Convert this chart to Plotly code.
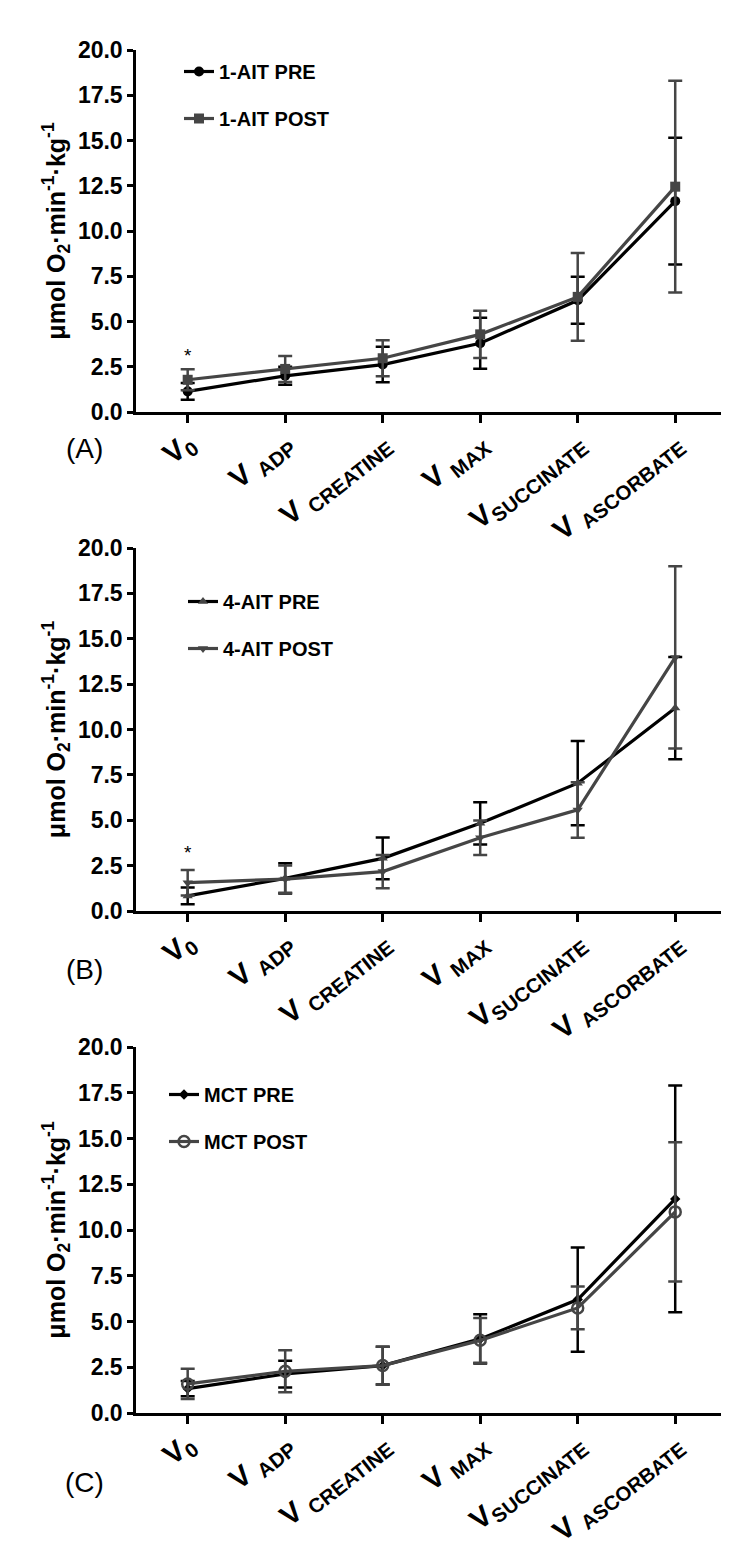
import plotly.graph_objects as go
from plotly.subplots import make_subplots

categories = ["V<sub>0</sub>", "V <sub>ADP</sub>", "V <sub>CREATINE</sub>",
              "V <sub>MAX</sub>", "V<sub>SUCCINATE</sub>", "V <sub>ASCORBATE</sub>"]
tick_labels = ["<b>V<sub>0</sub></b>", "<b>V <sub>ADP</sub></b>", "<b>V <sub>CREATINE</sub></b>",
               "<b>V <sub>MAX</sub></b>", "<b>V<sub>SUCCINATE</sub></b>", "<b>V <sub>ASCORBATE</sub></b>"]
y_ticks = [0, 2.5, 5, 7.5, 10, 12.5, 15, 17.5, 20]

# Panel A: 1-AIT
a_pre = [1.14, 2.0, 2.62, 3.8, 6.17, 11.65]
a_pre_sd = [0.46, 0.5, 0.98, 1.41, 1.3, 3.5]
a_post = [1.78, 2.38, 2.97, 4.29, 6.36, 12.45]
a_post_sd = [0.58, 0.72, 1.0, 1.3, 2.42, 5.85]

# Panel B: 4-AIT
b_pre = [0.83, 1.8, 2.9, 4.83, 7.04, 11.18]
b_pre_sd = [0.46, 0.83, 1.15, 1.16, 2.32, 2.82]
b_post = [1.56, 1.76, 2.17, 4.04, 5.57, 13.97]
b_post_sd = [0.7, 0.75, 0.92, 0.95, 1.53, 5.02]

# Panel C: MCT
c_pre = [1.33, 2.13, 2.59, 4.05, 6.2, 11.7]
c_pre_sd = [0.42, 0.73, 1.03, 1.35, 2.85, 6.2]
c_post = [1.59, 2.28, 2.59, 3.97, 5.74, 10.99]
c_post_sd = [0.83, 1.15, 1.03, 1.22, 1.17, 3.8]

BLACK = "#000000"
GRAY = "#454545"
FONT = "Liberation Sans, Arial, sans-serif"
W, H = 729, 1558

def py(px):
    return 1 - px / H

fig = make_subplots(rows=3, cols=1)

def add(row, name, vals, sd, color, ecolor, symbol, msize, mcolor, legend, group, mline=0):
    fig.add_trace(go.Scatter(
        x=categories, y=vals, name=f"<b>{name}</b>", mode="lines+markers",
        line=dict(color=color, width=3.2),
        marker=dict(symbol=symbol, size=msize, color=mcolor,
                    line=dict(width=mline, color=mcolor)),
        error_y=dict(type="data", array=sd, symmetric=True, color=ecolor,
                     thickness=2.5, width=7),
        legend=legend, legendgroup=group, showlegend=True,
    ), row=row, col=1)

add(1, "1-AIT PRE", a_pre, a_pre_sd, BLACK, BLACK, "circle", 10, BLACK, "legend", "a1")
add(1, "1-AIT POST", a_post, a_post_sd, GRAY, GRAY, "square", 10, GRAY, "legend", "a2")
add(2, "4-AIT PRE", b_pre, b_pre_sd, BLACK, BLACK, "triangle-up", 9, GRAY, "legend2", "b1")
add(2, "4-AIT POST", b_post, b_post_sd, GRAY, GRAY, "triangle-down", 9, GRAY, "legend2", "b2")
add(3, "MCT PRE", c_pre, c_pre_sd, BLACK, BLACK, "diamond", 8, BLACK, "legend3", "c1")
add(3, "MCT POST", c_post, c_post_sd, GRAY, GRAY, "circle-open", 11, GRAY, "legend3", "c2", mline=2.5)

domains = [(42, 404), (540, 903), (1039, 1405)]
xdom = [128 / W, 715 / W]
ytitle = "<b>μmol O<sub>2</sub>·min<sup>-1</sup>·kg<sup>-1</sup></b>"

for i, (top, bot) in enumerate(domains, start=1):
    sfx = "" if i == 1 else str(i)
    fig.layout["xaxis" + sfx].update(
        domain=xdom, type="category", range=[-0.53, 5.49], automargin=False,
        showline=True, linewidth=2.5, linecolor=BLACK, mirror=False,
        ticks="outside", ticklen=8, tickwidth=2.5, tickcolor=BLACK,
        showgrid=False, zeroline=False, tickangle=-38, ticklabelstandoff=-8,
        tickmode="array", tickvals=categories, ticktext=tick_labels,
        tickfont=dict(family=FONT, size=29, color=BLACK),
    )
    fig.layout["yaxis" + sfx].update(
        domain=[py(bot), py(top)], range=[0, 20], automargin=False,
        tickmode="array", tickvals=y_ticks, ticktext=[f"<b>{v:.1f}</b>" for v in y_ticks],
        showline=True, linewidth=2.5, linecolor=BLACK,
        ticks="outside", ticklen=6, tickwidth=2.5, tickcolor=BLACK,
        showgrid=False, zeroline=False,
        tickfont=dict(family=FONT, size=23, color=BLACK),
        title=dict(text=ytitle, font=dict(family=FONT, size=25, color=BLACK), standoff=6),
    )

legend_common = dict(xanchor="left", yanchor="top", bgcolor="rgba(0,0,0,0)",
                     font=dict(family=FONT, size=20, color=BLACK),
                     traceorder="grouped", tracegroupgap=18, itemwidth=30)
fig.update_layout(
    legend=dict(x=171 / W, y=py(44), **legend_common),
    legend2=dict(x=175 / W, y=py(574), **legend_common),
    legend3=dict(x=156 / W, y=py(1067), **legend_common),
)

annotations = []
for label, yc in [("(A)", 441), ("(B)", 961), ("(C)", 1474)]:
    annotations.append(dict(text=label, x=76 / W, y=py(yc), xref="paper", yref="paper",
                            showarrow=False, xanchor="center", yanchor="middle",
                            font=dict(family=FONT, size=28, color=BLACK)))
for ax, yv in [("", 3.1), ("2", 3.25)]:
    annotations.append(dict(text="*", x=categories[0], y=yv, xref="x" + ax, yref="y" + ax,
                            showarrow=False, yanchor="middle",
                            font=dict(family=FONT, size=19, color=BLACK)))

fig.update_layout(
    width=W, height=H, margin=dict(l=0, r=0, t=0, b=0, autoexpand=False),
    paper_bgcolor="white", plot_bgcolor="white",
    annotations=annotations,
)

fig.write_html("out.html")
